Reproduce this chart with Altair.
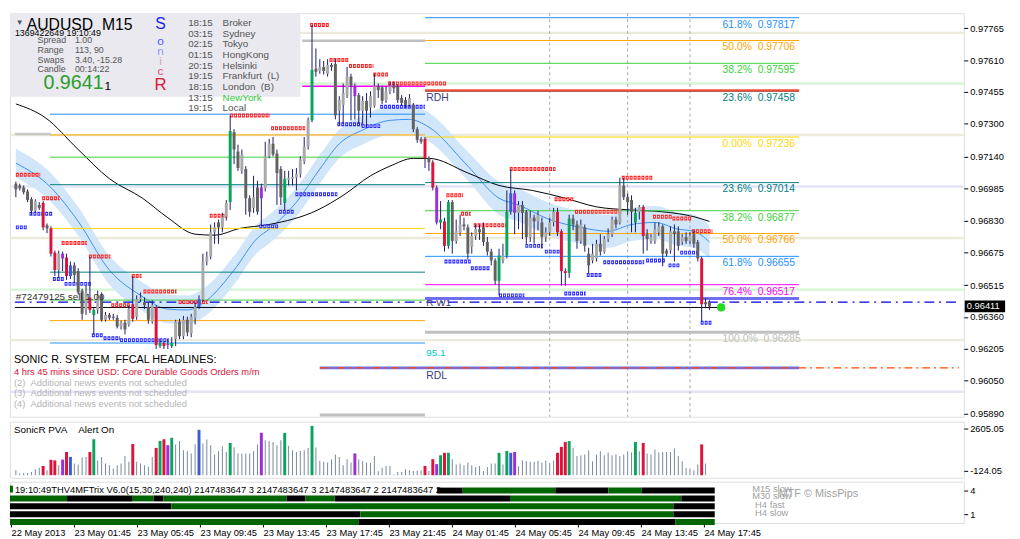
import json
import altair as alt
import pandas as pd

FONT = "Liberation Sans"
SP = "\u00a0"

# ---------------- candles (AUDUSD M15, 22 May 21:45 -> 24 May 18:15) ----------------
OPEN = [0.97009, 0.97000, 0.96990, 0.96971, 0.96933, 0.96877, 0.96905, 0.96915, 0.96806, 0.96791,
        0.96673, 0.96588, 0.96668, 0.96649, 0.96559, 0.96611, 0.96583, 0.96488, 0.96394, 0.96455,
        0.96370, 0.96394, 0.96465, 0.96346, 0.96370, 0.96361, 0.96356, 0.96313, 0.96332, 0.96323,
        0.96422, 0.96361, 0.96446, 0.96432, 0.96408, 0.96337, 0.96408, 0.96218, 0.96233, 0.96228,
        0.96218, 0.96252, 0.96337, 0.96266, 0.96346, 0.96280, 0.96356, 0.96408, 0.96446, 0.96630,
        0.96654, 0.96772, 0.96820, 0.96796, 0.96848, 0.96919, 0.97260, 0.97165, 0.97071, 0.97080,
        0.96938, 0.96891, 0.96990, 0.96938, 0.96986, 0.97142, 0.97203, 0.97156, 0.97080, 0.96915,
        0.97028, 0.97033, 0.97038, 0.97057, 0.97118, 0.97189, 0.97317, 0.97568, 0.97558, 0.97577,
        0.97544, 0.97587, 0.97592, 0.97364, 0.97393, 0.97440, 0.97530, 0.97483, 0.97440, 0.97364,
        0.97412, 0.97379, 0.97388, 0.97483, 0.97478, 0.97416, 0.97459, 0.97487, 0.97483, 0.97426,
        0.97416, 0.97393, 0.97393, 0.97274, 0.97227, 0.97227, 0.97132, 0.97113, 0.96990, 0.96820,
        0.96825, 0.96706, 0.96919, 0.96730, 0.96772, 0.96810, 0.96796, 0.96701, 0.96754, 0.96787,
        0.96796, 0.96725, 0.96678, 0.96635, 0.96536, 0.96635, 0.96659, 0.96872, 0.96962, 0.96867,
        0.96905, 0.96872, 0.96749, 0.96843, 0.96825, 0.96820, 0.96749, 0.96772, 0.96820, 0.96872,
        0.96777, 0.96583, 0.96574, 0.96839, 0.96810, 0.96730, 0.96796, 0.96668, 0.96635, 0.96645,
        0.96716, 0.96678, 0.96739, 0.96763, 0.96834, 0.96820, 0.97000, 0.96943, 0.96929, 0.96820,
        0.96872, 0.96896, 0.96763, 0.96730, 0.96730, 0.96772, 0.96801, 0.96683, 0.96683, 0.96777,
        0.96777, 0.96725, 0.96749, 0.96730, 0.96763, 0.96725, 0.96645, 0.96432, 0.96432]

HIGH = [0.97019, 0.97009, 0.97000, 0.96981, 0.96943, 0.96933, 0.96919, 0.96924, 0.96815, 0.96801,
        0.96683, 0.96683, 0.96678, 0.96668, 0.96630, 0.96626, 0.96597, 0.96498, 0.96512, 0.96654,
        0.96403, 0.96488, 0.96479, 0.96384, 0.96379, 0.96375, 0.96370, 0.96342, 0.96346, 0.96417,
        0.96559, 0.96465, 0.96479, 0.96455, 0.96432, 0.96441, 0.96417, 0.96252, 0.96242, 0.96252,
        0.96261, 0.96346, 0.96351, 0.96365, 0.96361, 0.96375, 0.96432, 0.96465, 0.96668, 0.96678,
        0.96810, 0.96820, 0.96834, 0.96867, 0.96929, 0.97341, 0.97274, 0.97199, 0.97175, 0.97094,
        0.96952, 0.97047, 0.97023, 0.97009, 0.97213, 0.97227, 0.97236, 0.97175, 0.97094, 0.97071,
        0.97071, 0.97080, 0.97085, 0.97142, 0.97236, 0.97331, 0.97781, 0.97667, 0.97615, 0.97606,
        0.97615, 0.97596, 0.97615, 0.97435, 0.97497, 0.97577, 0.97544, 0.97497, 0.97450, 0.97435,
        0.97450, 0.97459, 0.97544, 0.97497, 0.97487, 0.97483, 0.97506, 0.97506, 0.97492, 0.97440,
        0.97431, 0.97445, 0.97402, 0.97284, 0.97236, 0.97236, 0.97142, 0.97123, 0.97000, 0.96924,
        0.96843, 0.96929, 0.96929, 0.96834, 0.96858, 0.96843, 0.96810, 0.96772, 0.96810, 0.96810,
        0.96820, 0.96749, 0.96692, 0.96645, 0.96692, 0.96716, 0.96976, 0.97080, 0.96976, 0.96924,
        0.96924, 0.96881, 0.96877, 0.96858, 0.96877, 0.96843, 0.96796, 0.96843, 0.96891, 0.96891,
        0.96787, 0.96597, 0.96858, 0.96858, 0.96829, 0.96834, 0.96810, 0.96697, 0.96716, 0.96735,
        0.96763, 0.96754, 0.96791, 0.96848, 0.96848, 0.97038, 0.97038, 0.96962, 0.96952, 0.96891,
        0.96905, 0.96905, 0.96787, 0.96763, 0.96820, 0.96820, 0.96810, 0.96692, 0.96801, 0.96810,
        0.96801, 0.96763, 0.96772, 0.96772, 0.96782, 0.96735, 0.96654, 0.96450, 0.96441]

LOW = [0.96943, 0.96976, 0.96957, 0.96919, 0.96858, 0.96867, 0.96881, 0.96782, 0.96768, 0.96654,
       0.96559, 0.96550, 0.96583, 0.96540, 0.96545, 0.96526, 0.96469, 0.96346, 0.96370, 0.96379,
       0.96275, 0.96375, 0.96337, 0.96337, 0.96346, 0.96346, 0.96304, 0.96299, 0.96275, 0.96313,
       0.96337, 0.96346, 0.96432, 0.96398, 0.96327, 0.96327, 0.96204, 0.96209, 0.96204, 0.96204,
       0.96209, 0.96218, 0.96252, 0.96252, 0.96266, 0.96261, 0.96323, 0.96398, 0.96432, 0.96611,
       0.96640, 0.96716, 0.96716, 0.96772, 0.96829, 0.96881, 0.97104, 0.97071, 0.97057, 0.96858,
       0.96848, 0.96867, 0.96858, 0.96801, 0.96971, 0.97132, 0.97142, 0.96905, 0.96905, 0.96881,
       0.97000, 0.97000, 0.96976, 0.97038, 0.97104, 0.97175, 0.97308, 0.97530, 0.97544, 0.97540,
       0.97530, 0.97558, 0.97322, 0.97293, 0.97298, 0.97426, 0.97317, 0.97322, 0.97298, 0.97298,
       0.97284, 0.97331, 0.97379, 0.97426, 0.97397, 0.97402, 0.97445, 0.97450, 0.97402, 0.97388,
       0.97379, 0.97383, 0.97260, 0.97208, 0.97203, 0.97085, 0.97071, 0.96976, 0.96810, 0.96787,
       0.96678, 0.96692, 0.96668, 0.96716, 0.96754, 0.96782, 0.96640, 0.96668, 0.96735, 0.96735,
       0.96706, 0.96659, 0.96611, 0.96517, 0.96465, 0.96621, 0.96645, 0.96858, 0.96763, 0.96787,
       0.96739, 0.96716, 0.96725, 0.96716, 0.96782, 0.96692, 0.96725, 0.96754, 0.96801, 0.96754,
       0.96512, 0.96512, 0.96550, 0.96782, 0.96692, 0.96716, 0.96678, 0.96574, 0.96621, 0.96630,
       0.96659, 0.96668, 0.96725, 0.96749, 0.96791, 0.96810, 0.96929, 0.96858, 0.96772, 0.96772,
       0.96834, 0.96668, 0.96683, 0.96716, 0.96716, 0.96754, 0.96607, 0.96654, 0.96668, 0.96630,
       0.96683, 0.96711, 0.96716, 0.96716, 0.96697, 0.96630, 0.96337, 0.96403, 0.96394]

CLOSE = [0.96981, 0.96986, 0.96967, 0.96929, 0.96877, 0.96924, 0.96891, 0.96796, 0.96791, 0.96668,
         0.96588, 0.96668, 0.96645, 0.96559, 0.96611, 0.96564, 0.96479, 0.96375, 0.96479, 0.96394,
         0.96394, 0.96465, 0.96346, 0.96370, 0.96356, 0.96356, 0.96313, 0.96332, 0.96299, 0.96398,
         0.96351, 0.96446, 0.96455, 0.96417, 0.96346, 0.96417, 0.96223, 0.96233, 0.96218, 0.96223,
         0.96233, 0.96337, 0.96266, 0.96346, 0.96285, 0.96361, 0.96408, 0.96446, 0.96630, 0.96654,
         0.96772, 0.96796, 0.96796, 0.96848, 0.96915, 0.97265, 0.97175, 0.97085, 0.97151, 0.96938,
         0.96872, 0.96943, 0.96872, 0.96990, 0.97142, 0.97203, 0.97151, 0.97061, 0.96943, 0.97033,
         0.97038, 0.97042, 0.97057, 0.97128, 0.97189, 0.97317, 0.97563, 0.97554, 0.97577, 0.97558,
         0.97587, 0.97577, 0.97341, 0.97416, 0.97450, 0.97530, 0.97487, 0.97435, 0.97364, 0.97412,
         0.97364, 0.97435, 0.97483, 0.97464, 0.97412, 0.97459, 0.97483, 0.97473, 0.97416, 0.97402,
         0.97393, 0.97426, 0.97274, 0.97222, 0.97213, 0.97132, 0.97113, 0.96990, 0.96820, 0.96834,
         0.96706, 0.96919, 0.96730, 0.96777, 0.96810, 0.96801, 0.96668, 0.96754, 0.96787, 0.96772,
         0.96725, 0.96678, 0.96635, 0.96536, 0.96659, 0.96659, 0.96872, 0.96962, 0.96867, 0.96905,
         0.96867, 0.96749, 0.96843, 0.96825, 0.96858, 0.96749, 0.96772, 0.96820, 0.96872, 0.96772,
         0.96583, 0.96574, 0.96839, 0.96810, 0.96730, 0.96810, 0.96706, 0.96611, 0.96668, 0.96716,
         0.96678, 0.96739, 0.96763, 0.96834, 0.96810, 0.97000, 0.96943, 0.96919, 0.96872, 0.96867,
         0.96896, 0.96754, 0.96739, 0.96749, 0.96787, 0.96801, 0.96668, 0.96668, 0.96777, 0.96763,
         0.96706, 0.96749, 0.96730, 0.96754, 0.96716, 0.96645, 0.96422, 0.96422, 0.96411]

# u = bull, d = bear, r/g/b/p = Sonic R PVA climax / rising-volume candles
KIND = list("dddddudrdr" "ruprbdddur" "gududddudu" "ruuddurgrp" "gududuubuu"
            "uuduugddud" "dudpuudddg" "uuuuuugdud" "udduuudpdu" "duudduuddd"
            "dudddrdrpg" "rgduudduud" "ddddgugbpu" "ddududuuur" "rrgddudduu"
            "duuududddg" "urduuuddud" "dududdrdd")

VOLUME = [240, 80, 110, 110, 160, 290, 360, 450, 240, 750,
          720, 490, 760, 1130, 890, 570, 520, 860, 890, 1130,
          1750, 720, 890, 570, 490, 330, 490, 570, 930, 650,
          1520, 650, 570, 490, 400, 890, 1330, 1670, 1750, 1460,
          1820, 1490, 1670, 1220, 1170, 1060, 1510, 2210, 1540, 1740,
          1460, 1010, 1170, 1410, 1130, 1570, 1360, 1060, 1060, 1060,
          1060, 1170, 1490, 2060, 1700, 1670, 1620, 1460, 1700, 2060,
          1430, 1220, 1130, 1180, 1220, 1330, 2400, 1350, 700, 650,
          620, 760, 1010, 890, 490, 780, 620, 1060, 760, 680,
          620, 600, 930, 190, 360, 450, 450, 30, 160, 160,
          290, 240, 210, 230, 240, 450, 210, 780, 540, 970,
          1090, 1090, 780, 520, 570, 490, 620, 490, 400, 450,
          210, 400, 570, 570, 1090, 520, 1180, 1090, 1130, 440,
          720, 680, 650, 650, 700, 620, 720, 600, 720, 1090,
          1380, 1620, 1660, 1330, 940, 970, 1010, 1220, 680, 1010,
          1170, 970, 1110, 970, 1010, 930, 1010, 1170, 1110, 1620,
          1170, 1570, 1060, 1010, 1250, 1110, 1130, 1130, 1130, 1300,
          930, 680, 360, 330, 240, 520, 1500, 570, 15]

X_LABELS = ["22 May 2013", "23 May 01:45", "23 May 05:45", "23 May 09:45", "23 May 13:45",
            "23 May 17:45", "23 May 21:45", "24 May 01:45", "24 May 05:45", "24 May 09:45",
            "24 May 13:45", "24 May 17:45"]
PRICE_TICKS = [0.97765, 0.97610, 0.97455, 0.97300, 0.97140, 0.96985, 0.96830, 0.96675,
               0.96515, 0.96360, 0.96205, 0.96050, 0.95890]

# Sonic R dragon (EMA34 high / close / low) and slow EMA
DRAGON_BAR = [0, 9, 16, 24, 32, 39, 44, 49, 56, 62, 65, 72, 78, 83, 89, 96, 101, 106, 116,
              124, 129, 137, 145, 152, 158, 164, 170, 174, 178]
DRAGON_MID = [0.97109, 0.96990, 0.96825, 0.96588, 0.96465, 0.96398, 0.96394, 0.96441, 0.96588,
              0.96744, 0.96787, 0.96919, 0.97080, 0.97203, 0.97270, 0.97317, 0.97322, 0.97284,
              0.97094, 0.96938, 0.96905, 0.96834, 0.96796, 0.96777, 0.96810, 0.96820, 0.96787,
              0.96777, 0.96725]
DRAGON_HI = [0.97179, 0.97060, 0.96895, 0.96658, 0.96535, 0.96468, 0.96464, 0.96511, 0.96658,
             0.96814, 0.96857, 0.96989, 0.97150, 0.97273, 0.97340, 0.97387, 0.97392, 0.97354,
             0.97164, 0.97018, 0.96985, 0.96914, 0.96876, 0.96857, 0.96890, 0.96900, 0.96867,
             0.96857, 0.96805]
DRAGON_LO = [0.97039, 0.96920, 0.96755, 0.96518, 0.96395, 0.96328, 0.96324, 0.96371, 0.96518,
             0.96674, 0.96717, 0.96849, 0.97010, 0.97133, 0.97200, 0.97247, 0.97252, 0.97214,
             0.97024, 0.96858, 0.96825, 0.96754, 0.96716, 0.96697, 0.96730, 0.96740, 0.96707,
             0.96697, 0.96645]
EMA_BAR = [0, 7.5, 16, 24, 32.5, 39, 46, 51, 57.5, 65, 77.5, 84, 91, 96, 102, 106, 116, 124,
           132.5, 141, 149, 157.5, 166, 174, 178]
EMA_LEVEL = [0.97397, 0.97331, 0.97175, 0.97033, 0.96938, 0.96843, 0.96763, 0.96758, 0.96791,
             0.96810, 0.96881, 0.96952, 0.97047, 0.97094, 0.97132, 0.97132, 0.97061, 0.97000,
             0.96976, 0.96938, 0.96896, 0.96881, 0.96872, 0.96848, 0.96825]

# pivot-style full width lines
LIGHT_LEVELS = [0.97743, 0.97497, 0.97246, 0.96995, 0.96744, 0.96493, 0.96247, 0.95996]
LIGHT_KIND = ["beige", "green", "beige", "lavender", "beige", "green", "beige", "lavender"]

# Fibonacci sets
FIB_R_LEVELS = [0.97817, 0.97706, 0.97595, 0.97458, 0.97236, 0.97014, 0.96877, 0.96766,
                0.96655, 0.96517, 0.96285]
FIB_R_PCT = ["61.8%", "50.0%", "38.2%", "23.6%", "0.00%", "23.6%", "38.2%", "50.0%",
             "61.8%", "76.4%", "100.0%"]
FIB_R_SPAN = [105, 201]
FIB_L_LEVELS = [0.97347, 0.97246, 0.97138, 0.97004, 0.96791, 0.96578, 0.96442, 0.96342, 0.96233]
FIB_L_PCT = ["61.8%", "50.0%", "38.2%", "23.6%", "0.00%", "23.6%", "38.2%", "50.0%", "61.8%"]
FIB_L_SPAN = [8.75, 105]

# fractal markers
FR_HI_X0 = [0, 6.75, 11.75, 18.75, 24.5, 29.75, 32.75, 41.75, 49.75, 55, 65.5, 75.5, 80.5,
            85.5, 91.75, 95.5, 110.5, 114.25, 117.5, 126.75, 138.25, 143.5, 155.5, 163.5,
            168.5, 173.5]
FR_HI_X1 = [6.25, 11.25, 18.25, 24.25, 29.25, 32.25, 41.25, 49.25, 54.25, 65.25, 74.25, 80.5,
            85.5, 91.75, 95.5, 110.5, 114.75, 116.75, 126, 138.5, 143.25, 155.5, 163.5, 168.5,
            173.5, 178.75]
FR_HI_LEVEL = [0.97052, 0.96938, 0.96720, 0.96654, 0.96417, 0.96559, 0.96484, 0.96432, 0.96853,
               0.97341, 0.97279, 0.97781, 0.97611, 0.97582, 0.97540, 0.97497, 0.96952, 0.96862,
               0.96806, 0.97080, 0.96933, 0.96872, 0.97038, 0.96848, 0.96839, 0.96777]
FR_LO_X0 = [0, 3.5, 9.5, 12.5, 19.5, 22.5, 26.75, 62.5, 67.5, 71.75, 82.5, 88.75, 93.5, 110,
            116.75, 124, 130.75, 135.75, 140.75, 146.5, 150.75, 161.75, 167.5, 170.5, 175.75]
FR_LO_X1 = [3, 9.5, 12.5, 19.25, 22.5, 26.75, 39.25, 67.5, 71.5, 82.5, 88.75, 93.5, 105,
            116.75, 121.75, 130.5, 135.25, 140.25, 146.25, 150.25, 161.25, 166.75, 170.5,
            175.5, 178.5]
FR_LO_LEVEL = [0.96796, 0.96862, 0.96545, 0.96521, 0.96271, 0.96256, 0.96247, 0.96801, 0.96872,
               0.96957, 0.97298, 0.97289, 0.97383, 0.96630, 0.96597, 0.96465, 0.96706, 0.96678,
               0.96474, 0.96564, 0.96626, 0.96635, 0.96611, 0.96673, 0.96332]

# other levels
RDH_LEVEL, RW1_LEVEL, RDL_LEVEL = 0.97462, 0.96450, 0.96112
SELL_LEVEL, BID_LEVEL, LAST_PRICE = 0.96432, 0.96406, 0.96411
PREV_GRAY_HI, PREV_MAGENTA, PREV_GRAY_LO, LEFT_GRAY = 0.97705, 0.97483, 0.95882, 0.97251
VLINE_BARS = [137, 157, 173]
DOT_BAR = 181

# MTF trix bars: row, start, end, state
TRIX_ROW = [4, 4, 4, 4, 4,
            3, 3, 3, 3, 3, 3, 3, 3, 3, 3,
            2, 2, 2, 1, 1, 1, 0, 0, 0]
TRIX_X0 = [108.25, 114.75, 138.25, 151.75, 160.25,
           -0.25, 14.25, 30.75, 36.25, 38.75, 70, 74.75, 82.25, 126.75, 170.25,
           -0.25, 40.75, 168.25, -0.25, 88.75, 168.25, -0.25, 88.25, 168.75]
TRIX_X1 = [114.75, 138.25, 151.75, 160.25, 178.75,
           14.25, 30.75, 36.25, 38.75, 70, 74.75, 82.25, 126.75, 170.25, 178.75,
           40.75, 168.25, 178.75, 88.75, 168.25, 178.75, 88.25, 168.75, 178.75]
TRIX_STATE = ["k", "g", "k", "g", "k",
              "g", "k", "g", "k", "g", "k", "g", "k", "g", "k",
              "k", "g", "k", "k", "g", "k", "g", "k", "g"]

SESSIONS = ["Broker", "Sydney", "Tokyo", "HongKong", "Helsinki", "Frankfurt  (L)",
            "London  (B)", "NewYork", "Local"]
SESSION_TIMES = ["18:15", "03:15", "02:15", "01:15", "20:15", "19:15", "18:15", "13:15", "19:15"]
INFO_NAMES = ["Spread", "Range", "Swaps", "Candle"]
INFO_VALUES = ["1.00", "113, 90", "3.40, -15.28", "00:14:22"]
NEWS = ["4 hrs 45 mins since USD: Core Durable Goods Orders m/m",
        "(2)  Additional news events not scheduled",
        "(3)  Additional news events not scheduled",
        "(4)  Additional news events not scheduled"]

# ---------------- styles ----------------
KIND_COLOR = {"u": "#a9a9a9", "d": "#626262", "r": "#dc143c", "g": "#0ba35e",
              "b": "#3a5bd9", "p": "#9b30d9"}
FIB_COLOR = {"61.8%": "#1e90ff", "50.0%": "#ffa500", "38.2%": "#3ccf3c", "23.6%": "#008080",
             "0.00%": "#ffd700", "76.4%": "#ff00ff", "100.0%": "#c0c0c0"}
LIGHT_COLOR = {"beige": "#ebeadb", "green": "#d3f5d3", "lavender": "#e4e4f7"}


def nb(s):
    """keep runs of spaces visible in SVG text"""
    return s.replace("  ", SP + SP)


W = 969
xs = alt.Scale(domain=[-0.25, 242], nice=False, zero=False)
ys = alt.Scale(domain=[0.95874, 0.97839], nice=False, zero=False)
y_axis = alt.Axis(orient="right", values=PRICE_TICKS, format=".5f", title="", grid=False,
                  domain=False, tickSize=4, tickColor="black", labelFontSize=9.5,
                  labelPadding=2, labelColor="black", labelFont=FONT)


def X(field):
    return alt.X(field, type="quantitative", scale=xs, axis=None)


def Y(field):
    return alt.Y(field, type="quantitative", scale=ys, axis=y_axis)


def one():
    return alt.Chart(pd.DataFrame({"a": [0]}))


def txt(s, x, y, size, color, align="left", weight="normal"):
    return one().mark_text(text=nb(s), align=align, baseline="middle", fontSize=size,
                           color=color, font=FONT, fontWeight=weight).encode(
        x=alt.value(x), y=alt.value(y))


def hseg(level, x0, x1, color, width, dash=None):
    kw = dict(color=color, strokeWidth=width)
    if dash:
        kw["strokeDash"] = dash
    df = pd.DataFrame({"level": [level], "x0": [x0], "x1": [x1]})
    return alt.Chart(df).mark_rule(**kw).encode(x=X("x0"), x2="x1", y=Y("level"))


candles = pd.DataFrame({"bar": list(range(len(CLOSE))), "open": OPEN, "high": HIGH,
                        "low": LOW, "close": CLOSE, "kind": KIND, "volume": VOLUME})
candles["col"] = candles["kind"].map(KIND_COLOR)

# ---------------- main panel ----------------
layers = []
light = pd.DataFrame({"level": LIGHT_LEVELS, "kind": LIGHT_KIND})
light["col"] = light["kind"].map(LIGHT_COLOR)
layers.append(alt.Chart(light).mark_rule(strokeWidth=2.5).encode(
    y=Y("level"), color=alt.Color("col:N", scale=None)))

dragon = pd.DataFrame({"bar": DRAGON_BAR, "hi": DRAGON_HI, "mid": DRAGON_MID, "lo": DRAGON_LO})
layers.append(alt.Chart(dragon).mark_area(color="#d2e6fa", interpolate="monotone").encode(
    x=X("bar"), y=Y("lo"), y2="hi"))
layers.append(alt.Chart(dragon).mark_line(color="#3b8ff0", strokeWidth=1,
                                          interpolate="monotone").encode(x=X("bar"), y=Y("mid")))
ema = pd.DataFrame({"bar": EMA_BAR, "level": EMA_LEVEL})
layers.append(alt.Chart(ema).mark_line(color="black", strokeWidth=1,
                                       interpolate="monotone").encode(x=X("bar"), y=Y("level")))

layers.append(alt.Chart(pd.DataFrame({"bar": VLINE_BARS})).mark_rule(
    color="#a6a6a6", strokeDash=[3, 3], strokeWidth=1).encode(x=X("bar")))

for levels, pcts, span in [(FIB_L_LEVELS, FIB_L_PCT, FIB_L_SPAN), (FIB_R_LEVELS, FIB_R_PCT, FIB_R_SPAN)]:
    fdf = pd.DataFrame({"level": levels, "pct": pcts})
    fdf["col"] = fdf["pct"].map(FIB_COLOR)
    fdf["w"] = [3 if p == "100.0%" else 1 for p in pcts]
    fdf["x0"] = span[0]
    fdf["x1"] = span[1]
    layers.append(alt.Chart(fdf).mark_rule().encode(
        x=X("x0"), x2="x1", y=Y("level"), color=alt.Color("col:N", scale=None),
        strokeWidth=alt.StrokeWidth("w:Q", scale=None)))

layers += [
    hseg(LEFT_GRAY, -0.25, 9, "#c8c8c8", 2.5),
    hseg(PREV_GRAY_HI, 73.5, 105, "#c0c0c0", 2.5),
    hseg(PREV_MAGENTA, 73.5, 105, "#ff00ff", 1.5),
    hseg(PREV_GRAY_LO, 78, 105, "#c0c0c0", 3),
    hseg(RDH_LEVEL, 105, 201, "#f0503a", 2.5),
    hseg(RW1_LEVEL, 105, 201, "#6f6ff2", 3),
    hseg(RDL_LEVEL, 78, 201, "#6f6ff2", 3),
    hseg(RDL_LEVEL, 78, 242, "#ff4500", 1.2, [8, 4, 2, 4]),
    hseg(SELL_LEVEL, -0.25, 242, "#0000e0", 1.2, [10, 5, 2, 5]),
    hseg(BID_LEVEL, -0.25, DOT_BAR, "black", 1),
]

fr = pd.concat([
    pd.DataFrame({"x0": FR_HI_X0, "x1": FR_HI_X1, "level": FR_HI_LEVEL, "col": "#ff2424"}),
    pd.DataFrame({"x0": FR_LO_X0, "x1": FR_LO_X1, "level": FR_LO_LEVEL, "col": "#2a2aff"}),
])
layers.append(alt.Chart(fr).mark_rule(strokeWidth=4, strokeDash=[3, 1]).encode(
    x=X("x0"), x2="x1", y=Y("level"), color=alt.Color("col:N", scale=None)))
layers.append(alt.Chart(fr).mark_rule(strokeWidth=1.6, strokeDash=[1, 3], strokeDashOffset=3,
                                      color="white").encode(x=X("x0"), x2="x1", y=Y("level")))

layers.append(alt.Chart(candles).mark_rule(color="#1a1a66", strokeWidth=1).encode(
    x=X("bar"), y=Y("low"), y2="high"))
layers.append(alt.Chart(candles).mark_bar(size=3).encode(
    x=X("bar"), y=Y("open"), y2="close", color=alt.Color("col:N", scale=None)))

# info box
layers.append(one().mark_rect(color="#e9e9ef").encode(
    x=alt.value(0), x2=alt.value(295), y=alt.value(0), y2=alt.value(85)))
layers += [
    txt("\u25bc", 6, 10, 8, "#555555"),
    txt("AUDUSD  M15", 17, 12, 16, "black"),
    txt("1369422649 19:10:49", 5, 20.5, 9, "black"),
]
for i, (nm, val) in enumerate(zip(INFO_NAMES, INFO_VALUES)):
    layers.append(txt(nm, 28, 27.5 + 9.9 * i, 9, "#555555"))
    layers.append(txt(val, 66, 27.5 + 9.9 * i, 9, "#555555"))
layers += [
    txt("0.9641", 34, 71, 20, "#2a9d2a"),
    txt("1", 96, 74, 12, "black"),
]
for ch, yy, size, col in [("S", 11.5, 16, "#1c1cf0"), ("o", 28.5, 12, "#5555ff"),
                          ("n", 38.5, 12, "#9a9aff"), ("i", 49, 12, "#d0a8b8"),
                          ("c", 59, 12, "#e0506e"), ("R", 73.5, 17, "#dc143c")]:
    layers.append(txt(ch, 153, yy, size, col, align="center"))
for i, (t, name) in enumerate(zip(SESSION_TIMES, SESSIONS)):
    col = "#32c832" if name == "NewYork" else "#555555"
    layers.append(txt(t, 181, 10 + 10.85 * i, 10, "#555555"))
    layers.append(txt(name, 216, 10 + 10.85 * i, 10, col))

fib_lab = pd.DataFrame({"level": FIB_R_LEVELS, "pct": FIB_R_PCT})
fib_lab["text"] = [nb(f"{p}  {v:.5f}") for p, v in zip(FIB_R_PCT, FIB_R_LEVELS)]
fib_lab["col"] = fib_lab["pct"].map(FIB_COLOR)
layers.append(alt.Chart(fib_lab).mark_text(align="left", baseline="middle", fontSize=10.5,
                                           font=FONT, dy=7).encode(
    x=alt.value(724), y=Y("level"), text="text:N", color=alt.Color("col:N", scale=None)))

layers += [
    txt("#72479125 sell 1.00", 6, 288, 10, "#333333"),
    txt("RDH", 423, 86, 10.5, "#3c3c78"),
    txt("R W1", 423, 295, 10, "#3c3c78"),
    txt("95.1", 423, 345, 10, "#00c8c8"),
    txt("RDL", 423, 369, 10.5, "#3c3c78"),
    txt("SONIC R. SYSTEM  FFCAL HEADLINES:", 4, 352, 11, "black"),
]
for i, line in enumerate(NEWS):
    layers.append(txt(line, 4, 364.5 + 10.85 * i, 9.5, "#dc143c" if i == 0 else "#b4b4b4"))

layers.append(alt.Chart(pd.DataFrame({"bar": [DOT_BAR], "level": [BID_LEVEL]})).mark_circle(
    size=70, color="#22dd22", opacity=1).encode(x=X("bar"), y=Y("level")))
lp = pd.DataFrame({"level": [LAST_PRICE], "text": [f"{LAST_PRICE:.5f}"]})
layers.append(alt.Chart(lp).mark_rule(strokeWidth=12, color="black").encode(
    x=alt.value(970), x2=alt.value(1011), y=Y("level")))
layers.append(alt.Chart(lp).mark_text(align="left", baseline="middle", fontSize=9.5,
                                      font=FONT, color="white").encode(
    x=alt.value(972), y=Y("level"), text="text:N"))

main = alt.layer(*layers).properties(width=W, height=410)

# ---------------- volume panel ----------------
vys = alt.Scale(domain=[-124.05, 2605.05], nice=False, zero=False)
v_axis = alt.Axis(orient="right", values=[2264, 217],
                  labelExpr="datum.value > 1000 ? '2605.05' : '-124.05'", title="",
                  grid=False, domain=False, tickSize=4, tickColor="black",
                  labelFontSize=9.5, labelPadding=2, labelColor="black", labelFont=FONT)
plain = candles[candles["kind"].isin(["u", "d"])]
special = candles[~candles["kind"].isin(["u", "d"])]
vol = alt.layer(
    alt.Chart(plain).mark_bar(size=1, color="#778899").encode(
        x=X("bar"), y=alt.Y("volume:Q", scale=vys, axis=v_axis)),
    alt.Chart(special).mark_bar(size=3).encode(
        x=X("bar"), y=alt.Y("volume:Q", scale=vys, axis=v_axis),
        color=alt.Color("col:N", scale=None)),
    txt("SonicR PVA    Alert On", 4, 9, 10, "black"),
).properties(width=W, height=57)

# ---------------- MTF trix panel ----------------
iys = alt.Scale(domain=[-0.125, 5.125], nice=False, zero=False)
i_axis = alt.Axis(orient="right", values=[4, 1], format="d", title="", grid=False,
                  domain=False, tickSize=4, tickColor="black", labelFontSize=9.5,
                  labelPadding=2, labelColor="black", labelFont=FONT)
x_axis = alt.Axis(values=[16 * i for i in range(len(X_LABELS))],
                  labelExpr=json.dumps(X_LABELS) + "[round(datum.value / 16)]",
                  labelAlign="left", labelPadding=1, tickSize=4, tickColor="black",
                  grid=False, domain=False, title="", labelFontSize=9.5,
                  labelColor="black", labelFont=FONT, labelOverlap=False, labelFlush=False)
trix = pd.DataFrame({"row": TRIX_ROW, "x0": TRIX_X0, "x1": TRIX_X1, "state": TRIX_STATE})
trix["lo"] = trix["row"] - 0.375
trix["hi"] = trix["row"] + 0.375
trix["col"] = trix["state"].map({"k": "black", "g": "#006400"})
ind = alt.layer(
    alt.Chart(trix).mark_rect().encode(
        x=alt.X("x0:Q", scale=xs, axis=x_axis), x2="x1",
        y=alt.Y("lo:Q", scale=iys, axis=i_axis), y2="hi",
        color=alt.Color("col:N", scale=None)),
    one().mark_rect(color="#006400").encode(x=alt.value(0), x2=alt.value(3),
                                            y=alt.value(4), y2=alt.value(11)),
    txt("19:10:49THV4MFTrix V6.0(15,30,240,240) 2147483647 3 2147483647 3 2147483647 2 2147483647 2",
        5, 8.5, 9.5, "black"),
    txt("M15 slow", 754, 7, 9.5, "#a0a0a0"),
    txt("M30 slow", 754, 15, 9.5, "#a0a0a0"),
    txt("H4 fast", 757, 24, 9.5, "#a0a0a0"),
    txt("H4 slow", 757, 32, 9.5, "#a0a0a0"),
    txt("MTF \u00a9 MissPips", 781, 13, 11, "#a0a0a0"),
).properties(width=W, height=42)

chart = alt.vconcat(main, vol, ind, spacing=2).properties(
    padding=0, background="white"
).configure_view(stroke="black", strokeWidth=1).configure(font=FONT)

chart.save("out.html", embed_options={"renderer": "svg", "actions": False})
